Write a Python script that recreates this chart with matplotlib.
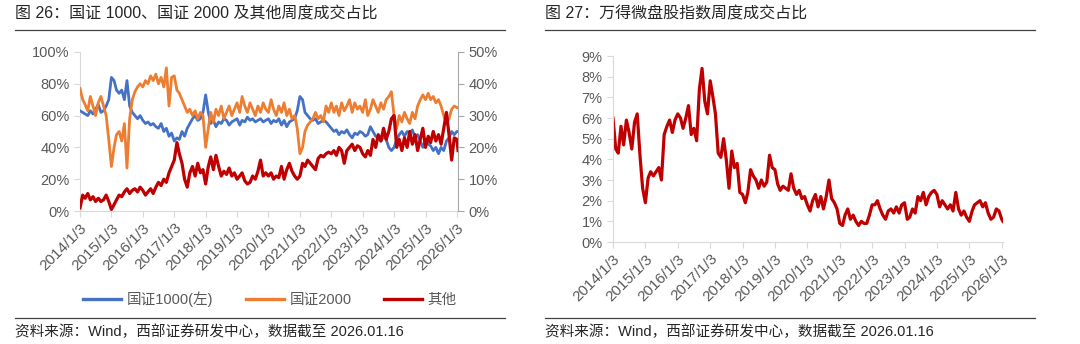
import pandas as pd
import matplotlib.pyplot as plt
from matplotlib.lines import Line2D
from matplotlib.ticker import FuncFormatter, MultipleLocator

plt.rcParams['font.family'] = ['Liberation Sans', 'Noto Sans CJK SC']
plt.rcParams['axes.unicode_minus'] = False

# monthly samples of the weekly series, last point = 2026-01-16
dates = list(pd.date_range("2014-01-03", "2026-01-03", freq=pd.DateOffset(months=1)))
dates.append(pd.Timestamp("2026-01-16"))

# 国证1000 share, left axis (%)
csi1000 = [
    63, 62, 61, 60, 63, 61, 64, 67, 62, 63, 66, 70,
    84, 82, 76, 74, 76, 70, 82, 66, 62, 60, 58, 60,
    57, 55, 56, 54, 55, 53, 52, 55, 50, 52, 47, 49,
    44, 46, 45, 50, 47, 52, 55, 58, 60, 57, 58, 62,
    73, 62, 55, 57, 53, 56, 55, 58, 57, 54, 56, 57,
    58, 54, 57, 56, 59, 57, 58, 56, 57, 58, 56, 57,
    58, 55, 57, 56, 58, 54, 57, 53, 56, 57, 58, 63,
    72, 70, 62, 60, 58, 57, 58, 55, 56, 57, 56, 54,
    52, 50, 51, 48, 50, 49, 51, 48, 46, 49, 48, 50,
    49, 47, 48, 53, 50, 47, 46, 44, 47, 45, 40, 38,
    40, 45, 48, 50, 47, 50, 49, 51, 46, 48, 44, 40,
    45, 42, 41, 38, 40, 36, 40, 38, 44, 46, 50, 48,
    50, 50,
]

# 国证2000 share, right axis (%)
csi2000 = [
    38.5, 35, 33.5, 31.5, 36, 33, 30, 34, 36, 33, 30, 22.5,
    14, 20, 24, 25, 22, 27.5, 13.5, 29, 35, 37.5, 39, 40,
    39, 41, 40, 42.5, 41, 43, 40, 42, 39, 45, 33, 42,
    42.5, 38, 37, 35, 33, 31, 32, 30, 31.5, 29, 31, 30,
    20, 26, 31, 28, 32, 30, 33, 29, 31, 33, 30, 32,
    34, 31, 36, 33, 31, 34, 32, 30, 33, 31, 34, 32,
    31, 35, 32, 30, 33, 31, 34, 30, 32, 29, 30, 26,
    18, 20, 25, 27, 28, 29, 31, 29, 30, 28, 33, 31,
    34, 31, 33, 30, 34, 31.5, 33, 35, 31, 34, 32, 33,
    31, 35, 30, 32, 35, 33, 31, 34, 32, 35, 36, 37.5,
    30, 26, 30, 28, 31, 29, 27.5, 31, 29, 33, 35, 36.5,
    35, 37, 35, 36, 34, 35, 33, 30, 27.5, 29, 32, 33,
    32.5, 32.5,
]

# 其他 share, right axis (%)
others = [
    1, 5, 4, 5.5, 3.5, 4.5, 3, 4, 3, 3.5, 5, 3,
    0.5, 2, 3.5, 5, 4.5, 6, 7, 5.5, 6.5, 7, 6, 7.5,
    6.5, 5, 6, 7, 5.5, 7.5, 9, 8, 10, 9, 12, 14,
    16, 21.5, 18, 15, 10, 7.5, 12, 14, 11, 15, 12, 13,
    8.5, 14, 17, 13, 17.5, 14, 11, 12.5, 11.5, 13.5, 11, 12,
    10, 11, 12, 9.5, 8.5, 9, 11, 10, 12.5, 16, 11, 12,
    11, 12, 10, 11, 10.5, 14, 10, 13, 15, 12.5, 11, 10,
    11, 15, 14, 16, 15, 14, 13, 16.5, 17.5, 17, 18, 18.5,
    18, 19, 17.5, 20, 19, 15, 19, 20, 21, 19, 20.5, 20,
    18, 17, 19, 17.5, 22.5, 20, 24, 22, 26, 22.5, 25, 29,
    30, 20, 22.5, 19, 23, 20, 25, 21, 24, 19, 22.5, 26,
    20, 23.5, 21.5, 25, 22, 24, 21, 26, 31, 24, 16, 23,
    22.5, 19,
]

# 万得微盘股指数 share (%)
microcap = [
    6.0, 4.5, 4.3, 5.6, 4.7, 5.9, 5.3, 4.5, 5.8, 6.2, 4.2, 2.6,
    1.9, 3.1, 3.4, 3.2, 3.4, 3.6, 3.0, 5.2, 5.6, 5.9, 5.3, 5.9,
    6.2, 6.0, 5.5, 6.0, 6.6, 5.2, 5.5, 4.9, 7.4, 8.4, 6.8, 6.2,
    7.8, 7.0, 6.2, 4.3, 4.1, 5.0, 4.0, 2.6, 4.4, 3.6, 3.8, 2.4,
    2.3, 1.9, 2.4, 3.5, 3.2, 3.0, 2.6, 3.0, 2.7, 2.9, 4.2, 3.6,
    3.5, 2.8, 2.5, 2.7, 2.6, 2.5, 3.3, 2.6, 2.3, 2.5, 2.1, 2.2,
    1.8, 1.5, 2.0, 2.3, 1.7, 2.2, 1.6, 2.2, 3.0, 2.1, 1.9, 1.6,
    0.9, 0.8, 1.3, 1.6, 1.1, 1.3, 1.0, 0.8, 1.0, 0.9, 0.9, 1.3,
    1.8, 1.8, 2.0, 1.6, 1.3, 1.1, 1.5, 1.6, 1.4, 1.7, 1.4, 1.8,
    1.9, 1.1, 1.2, 1.6, 1.4, 2.2, 2.0, 2.4, 1.8, 2.2, 2.4, 2.5,
    2.3, 1.7, 2.0, 1.8, 1.6, 1.8, 1.5, 2.4, 1.6, 1.3, 1.5, 1.2,
    1.0, 1.5, 1.8, 1.9, 2.0, 1.7, 1.9, 1.4, 1.1, 1.2, 1.6, 1.5,
    1.1, 1.0,
]

tick_dates = pd.to_datetime([f"{y}-01-03" for y in range(2014, 2027)])
tick_labels = [f"{y}/1/3" for y in range(2014, 2027)]

BLUE, ORANGE, RED = "#4472C4", "#ED7D31", "#C00000"
GRID_GRAY, AXIS_GRAY, TEXT_GRAY = "#d9d9d9", "#a6a6a6", "#595959"
pct = FuncFormatter(lambda v, _: f"{v:.0f}%")
xmin, xmax = pd.Timestamp("2014-01-03"), pd.Timestamp("2026-01-16")

fig = plt.figure(figsize=(10.8, 3.44), dpi=100)


def style_dates(ax):
    ax.set_xlim(xmin, xmax)
    ax.set_xticks(tick_dates)
    ax.set_xticklabels(tick_labels, rotation=45, ha="right", rotation_mode="anchor",
                       fontsize=11, color=TEXT_GRAY)
    ax.tick_params(axis="x", length=4, color=GRID_GRAY, pad=3)
    ax.tick_params(axis="y", labelsize=10.5, labelcolor=TEXT_GRAY, color=GRID_GRAY, length=4)
    for s in ("top", "right"):
        ax.spines[s].set_visible(False)
    ax.spines["left"].set_color(GRID_GRAY)
    ax.spines["bottom"].set_color(GRID_GRAY)


# ---- 图26 ----
ax1 = fig.add_axes([0.0741, 0.3866, 0.350, 0.4624])
ax1.plot(dates, csi1000, color=BLUE, lw=2.0, zorder=3)
ax1.set_ylim(0, 100)
ax1.yaxis.set_major_locator(MultipleLocator(20))
ax1.yaxis.set_major_formatter(pct)
style_dates(ax1)

ax1r = ax1.twinx()
ax1r.plot(dates, csi2000, color=ORANGE, lw=2.0, zorder=2)
ax1r.plot(dates, others, color=RED, lw=2.3, zorder=4)
ax1r.set_ylim(0, 50)
ax1r.set_xlim(xmin, xmax)
ax1r.yaxis.set_major_locator(MultipleLocator(10))
ax1r.yaxis.set_major_formatter(pct)
ax1r.tick_params(axis="y", labelsize=10.5, labelcolor=TEXT_GRAY, color=AXIS_GRAY, length=4)
for s in ("top", "left", "bottom"):
    ax1r.spines[s].set_visible(False)
ax1r.spines["right"].set_color(AXIS_GRAY)

handles = [Line2D([], [], color=c, lw=2.4) for c in (BLUE, ORANGE, RED)]
fig.legend(handles, ["国证1000(左)", "国证2000", "其他"], loc="center",
           bbox_to_anchor=(0.25, 0.131), ncol=3, frameon=False, fontsize=10.5,
           handlelength=2.6, columnspacing=2.2, handletextpad=0.4,
           labelcolor=TEXT_GRAY)

# ---- 图27 ----
ax2 = fig.add_axes([0.5676, 0.2965, 0.361, 0.5407])
ax2.plot(dates, microcap, color=RED, lw=2.3)
ax2.set_ylim(0, 9)
ax2.yaxis.set_major_locator(MultipleLocator(1))
ax2.yaxis.set_major_formatter(pct)
style_dates(ax2)

# titles, rules and source notes
for x0, x1, title in ((15, 505, "图 26：国证 1000、国证 2000 及其他周度成交占比"),
                      (545, 1035, "图 27：万得微盘股指数周度成交占比")):
    fig.text(x0 / 1080, 1 - 14 / 344, title, fontsize=11.5, color="#262626",
             ha="left", va="center")
    fig.add_artist(Line2D([x0 / 1080, x1 / 1080], [1 - 30 / 344] * 2,
                          color="#404040", lw=0.9))
    fig.add_artist(Line2D([x0 / 1080, x1 / 1080], [1 - 318 / 344] * 2,
                          color="#404040", lw=0.9))
    fig.text(x0 / 1080, 1 - 332 / 344, "资料来源：Wind，西部证券研发中心，数据截至 2026.01.16",
             fontsize=10.5, color="#262626", ha="left", va="center")

fig.savefig("out.png", dpi=100)
